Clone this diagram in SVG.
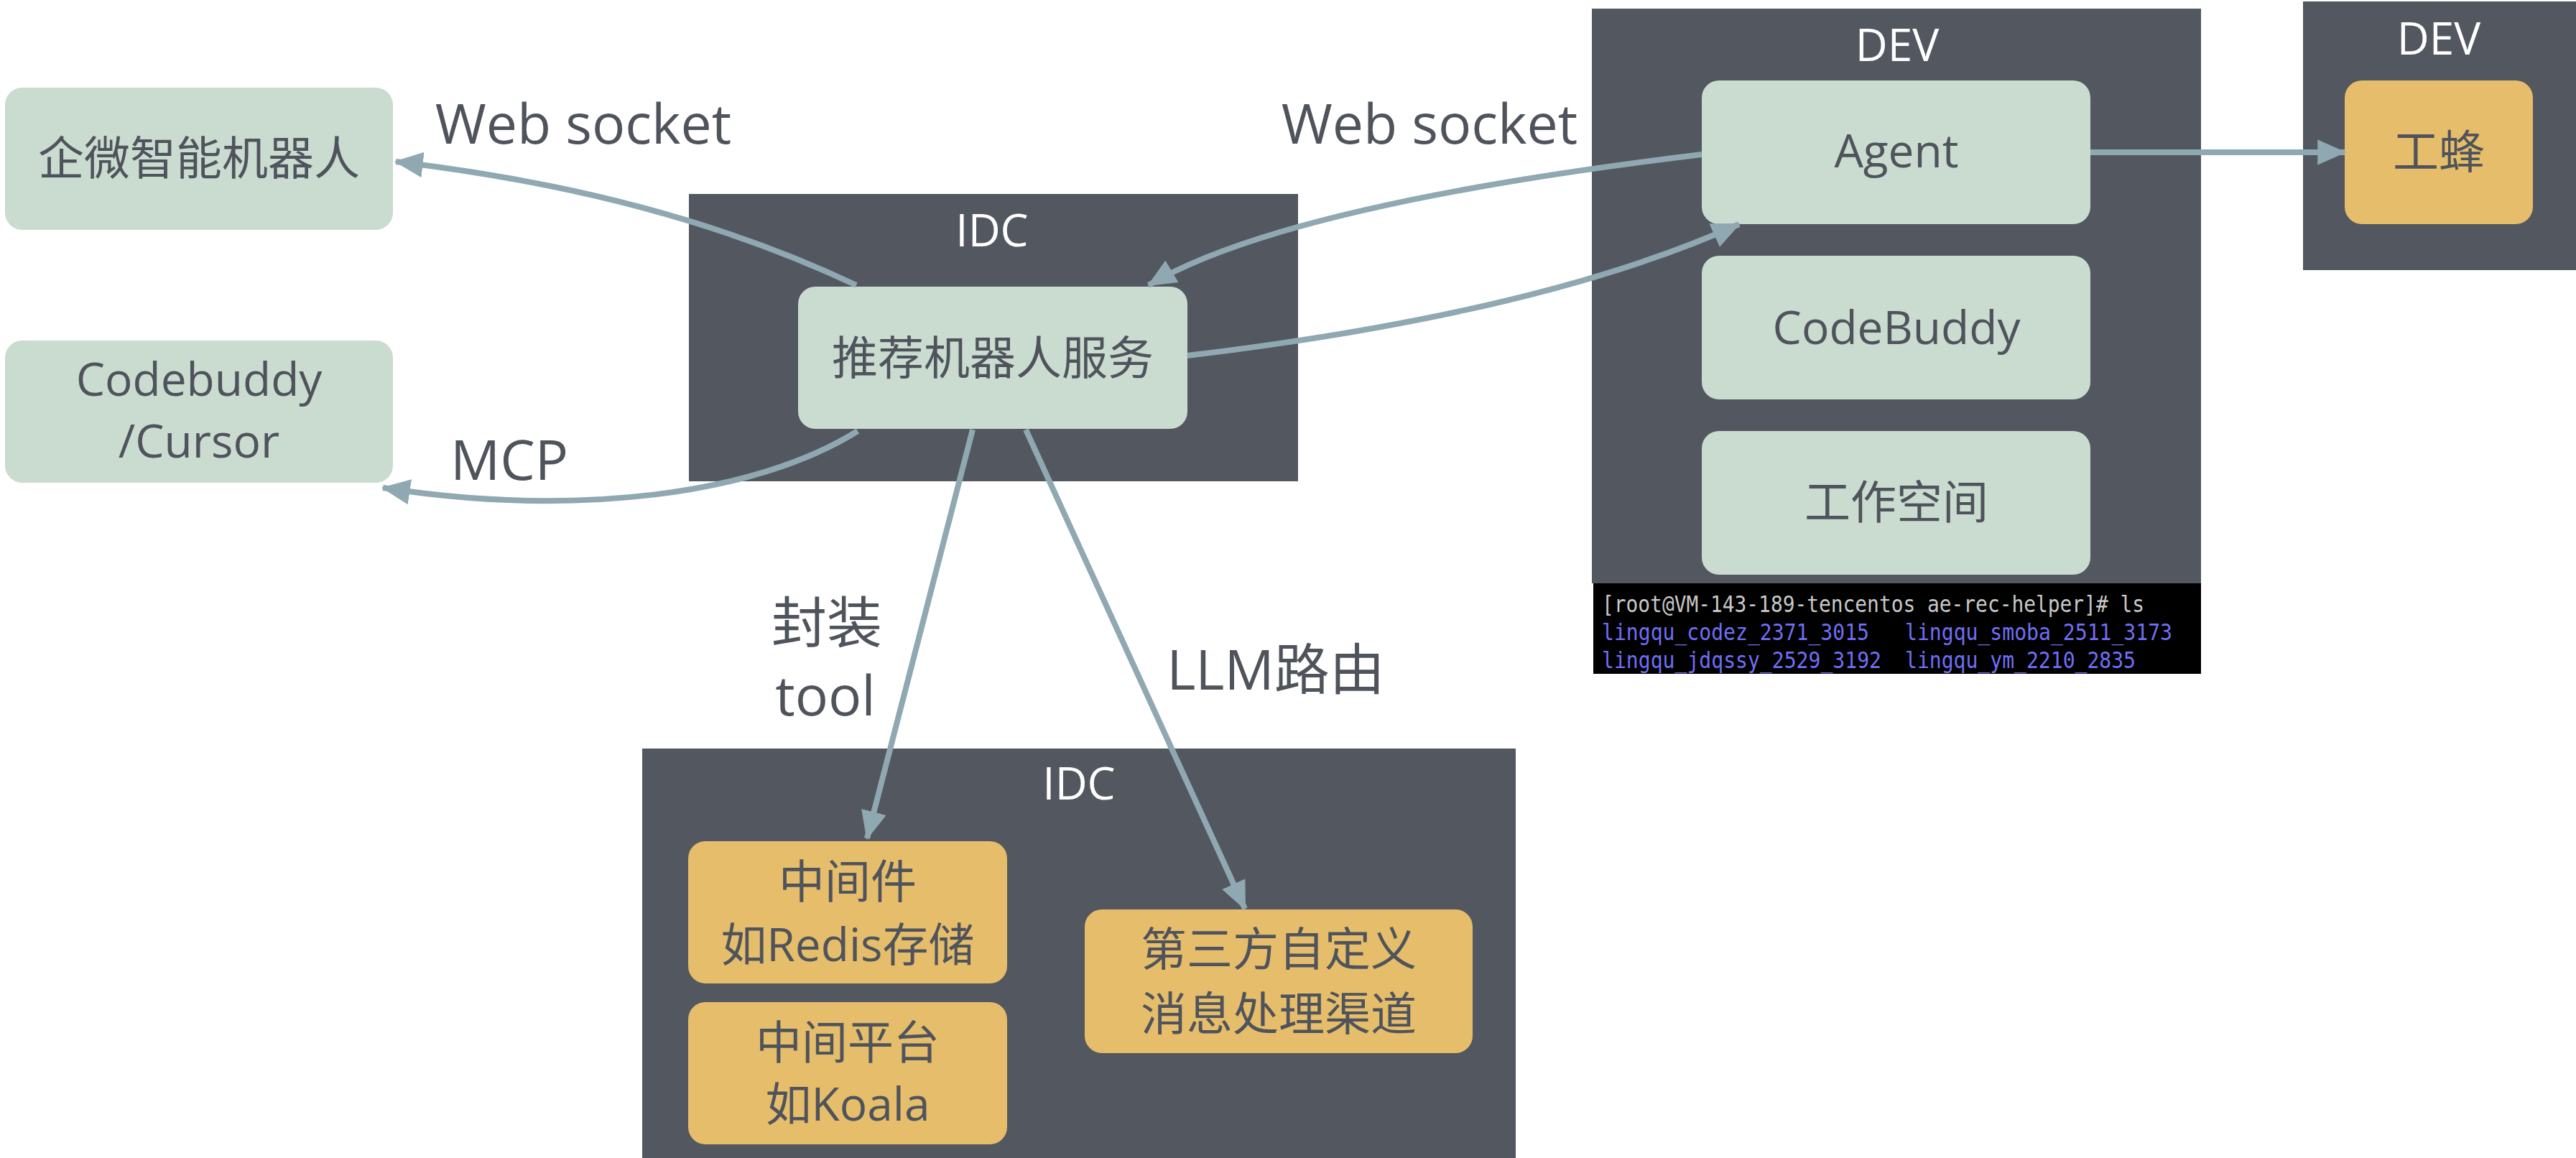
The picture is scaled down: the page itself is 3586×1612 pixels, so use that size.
<svg xmlns="http://www.w3.org/2000/svg" width="3586" height="1612" viewBox="0 0 3586 1612">
<defs>
<style>
.bg{fill:#ffffff}
.zone{fill:#53575f}
.node{fill:#cadbd0}
.warm{fill:#e6bd6b}
.t{font-family:"Open Sans","Noto Sans CJK SC",sans-serif;fill:#4f545c;text-anchor:middle}
.nt{font-size:64px}
.lbl{font-size:77px}
.zt{font-family:"Open Sans",sans-serif;fill:#ffffff;font-size:62px;text-anchor:middle}
.edge{fill:none;stroke:#8fa8b2;stroke-width:8}
.term{font-family:"DejaVu Sans Mono",monospace;font-size:32px}
</style>
<marker id="ah" markerUnits="userSpaceOnUse" markerWidth="40" markerHeight="40" viewBox="0 0 36 36" refX="34" refY="18" orient="auto">
<path d="M0,2 L36,18 L0,34 Z" fill="#8fa8b2"/>
</marker>
</defs>
<rect class="bg" x="0" y="0" width="3586" height="1612"/>

<g id="idc-top">
<rect class="zone" x="959" y="270" width="848" height="400"/>
<text class="zt" x="1381" y="343">IDC</text>
</g>
<g id="dev-main">
<rect class="zone" x="2216" y="12" width="848" height="800"/>
<text class="zt" x="2641" y="85">DEV</text>
</g>
<g id="dev-small">
<rect class="zone" x="3206" y="2" width="380" height="374"/>
<text class="zt" x="3395" y="76">DEV</text>
</g>
<g id="idc-bottom">
<rect class="zone" x="894" y="1042" width="1216" height="570"/>
<text class="zt" x="1502" y="1113">IDC</text>
</g>

<g id="qiwei-bot">
<rect class="node" x="7" y="122" width="540" height="198" rx="24"/>
<text class="t nt" x="277" y="243">企微智能机器人</text>
</g>
<g id="codebuddy-cursor">
<rect class="node" x="7" y="474" width="540" height="198" rx="24"/>
<text class="t nt" x="277" y="551">Codebuddy</text>
<text class="t nt" x="277" y="637">/Cursor</text>
</g>
<g id="rec-service">
<rect class="node" x="1111" y="399" width="542" height="198" rx="24"/>
<text class="t nt" x="1382" y="521">推荐机器人服务</text>
</g>
<g id="agent">
<rect class="node" x="2369" y="112" width="541" height="200" rx="24"/>
<text class="t nt" x="2640" y="233">Agent</text>
</g>
<g id="codebuddy">
<rect class="node" x="2369" y="356" width="541" height="200" rx="24"/>
<text class="t nt" x="2640" y="479">CodeBuddy</text>
</g>
<g id="workspace">
<rect class="node" x="2369" y="600" width="541" height="200" rx="24"/>
<text class="t nt" x="2640" y="722">工作空间</text>
</g>
<g id="terminal">
<rect x="2218" y="812" width="846" height="126" fill="#000000"/>
<text class="term" x="2230" y="852" fill="#c8c8c8" textLength="755" lengthAdjust="spacingAndGlyphs">[root@VM-143-189-tencentos ae-rec-helper]# ls</text>
<text class="term" x="2230" y="891" fill="#6f6ff5" textLength="372" lengthAdjust="spacingAndGlyphs">lingqu_codez_2371_3015</text>
<text class="term" x="2652" y="891" fill="#6f6ff5" textLength="372" lengthAdjust="spacingAndGlyphs">lingqu_smoba_2511_3173</text>
<text class="term" x="2230" y="930" fill="#6f6ff5" textLength="389" lengthAdjust="spacingAndGlyphs">lingqu_jdqssy_2529_3192</text>
<text class="term" x="2652" y="930" fill="#6f6ff5" textLength="321" lengthAdjust="spacingAndGlyphs">lingqu_ym_2210_2835</text>
</g>
<g id="gongfeng">
<rect class="warm" x="3264" y="112" width="262" height="200" rx="24"/>
<text class="t nt" x="3395" y="234">工蜂</text>
</g>
<g id="middleware">
<rect class="warm" x="958" y="1171" width="444" height="198" rx="24"/>
<text class="t nt" x="1180" y="1250">中间件</text>
<text class="t nt" x="1180" y="1338">如Redis存储</text>
</g>
<g id="platform">
<rect class="warm" x="958" y="1395" width="444" height="198" rx="24"/>
<text class="t nt" x="1180" y="1474">中间平台</text>
<text class="t nt" x="1180" y="1560">如Koala</text>
</g>
<g id="third-party">
<rect class="warm" x="1510" y="1266" width="540" height="200" rx="24"/>
<text class="t nt" x="1780" y="1344">第三方自定义</text>
<text class="t nt" x="1780" y="1434">消息处理渠道</text>
</g>

<g id="connectors">
<path class="edge" d="M1192,397 Q920,268 551,225" marker-end="url(#ah)"/>
<path class="edge" d="M1194,600 C1050,690 800,720 533,679" marker-end="url(#ah)"/>
<path class="edge" d="M2369,215 Q1788,285 1599,397" marker-end="url(#ah)"/>
<path class="edge" d="M1653,495 Q2146,436 2421,312" marker-end="url(#ah)"/>
<path class="edge" d="M2910,212 L3264,212" marker-end="url(#ah)"/>
<path class="edge" d="M1354,598 L1207,1167" marker-end="url(#ah)"/>
<path class="edge" d="M1428,598 L1733,1265" marker-end="url(#ah)"/>
</g>

<g id="edge-labels">
<text class="t lbl" x="812" y="200">Web socket</text>
<text class="t lbl" x="1990" y="200">Web socket</text>
<text class="t lbl" x="709" y="668">MCP</text>
<text class="t lbl" x="1151" y="895">封装</text>
<text class="t lbl" x="1149" y="996">tool</text>
<text class="t lbl" x="1776" y="960">LLM路由</text>
</g>
</svg>
